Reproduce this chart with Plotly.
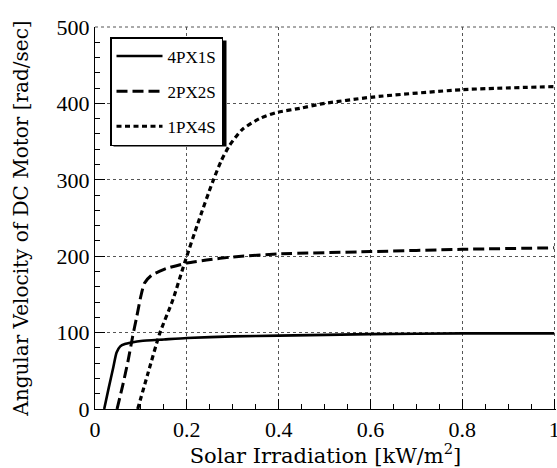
import plotly.graph_objects as go

# Data
x_4p1s = [0.02, 0.03, 0.04, 0.047, 0.055, 0.065, 0.08, 0.1, 0.15, 0.2, 0.3, 0.4, 0.6, 0.8, 1.0]
y_4p1s = [0, 28, 55, 74, 82, 85, 87, 89, 91, 93, 95, 96, 98, 99, 99]

x_2p2s = [0.048, 0.06, 0.072, 0.082, 0.091, 0.1, 0.108, 0.123, 0.14, 0.156, 0.2, 0.243, 0.3, 0.4, 0.6, 0.8, 1.0]
y_2p2s = [0, 30, 63, 95, 121, 148, 165, 175, 180, 184, 191, 195, 199, 203, 206, 209, 211]

x_1p4s = [0.093, 0.115, 0.141, 0.169, 0.195, 0.224, 0.256, 0.275, 0.293, 0.321, 0.358, 0.395, 0.45, 0.49, 0.6, 0.8, 1.0]
y_1p4s = [0, 46, 99, 142, 191, 243, 297, 325, 345, 366, 380, 388, 394, 399, 408, 418, 422]

series_names = ["4PX1S", "2PX2S", "1PX4S"]

x_ticks = [0, 0.2, 0.4, 0.6, 0.8, 1]
x_tick_labels = ["0", "0.2", "0.4", "0.6", "0.8", "1"]
y_ticks = [0, 100, 200, 300, 400, 500]

SERIF = "Liberation Serif, Times New Roman, serif"
WIDE_SERIF = "DejaVu Serif, serif"

fig = go.Figure()
fig.add_trace(go.Scatter(x=x_4p1s, y=y_4p1s, mode="lines", name=series_names[0],
                         legendgroup="a", line=dict(color="black", width=2.6, shape="spline", smoothing=0.6)))
fig.add_trace(go.Scatter(x=x_2p2s, y=y_2p2s, mode="lines", name=series_names[1],
                         legendgroup="b", line=dict(color="black", width=3, dash="11px,5px", shape="spline", smoothing=0.6)))
fig.add_trace(go.Scatter(x=x_1p4s, y=y_1p4s, mode="lines", name=series_names[2],
                         legendgroup="c", line=dict(color="black", width=3.2, dash="5px,3.5px", shape="spline", smoothing=0.6)))

axis_common = dict(
    showline=True, linecolor="black", linewidth=1.2, mirror=False,
    ticks="inside", ticklen=10, tickwidth=1, tickcolor="black",
    showgrid=True, gridcolor="#555", griddash="dot", gridwidth=1,
    zeroline=False, tickfont=dict(family=SERIF, size=22, color="black"),
    automargin=False, ticklabeloverflow="allow",
)

# legend box in plot pixels (for the drop shadow)
px_w, px_h = 461.0, 382.0
leg_left, leg_right, leg_top, leg_bottom = 15, 128, 10, 116
leg_x0, leg_x1 = leg_left / px_w, leg_right / px_w
leg_y1, leg_y0 = 1 - leg_top / px_h, 1 - leg_bottom / px_h
sh = 3.5

fig.update_layout(
    width=557, height=468,
    margin=dict(l=95, r=1, t=27, b=59),
    paper_bgcolor="white", plot_bgcolor="white",
    showlegend=True,
    legend=dict(x=leg_x0, y=leg_y1, xanchor="left", yanchor="top",
                bgcolor="white", bordercolor="black", borderwidth=1.5,
                font=dict(family=SERIF, size=17, color="black"),
                tracegroupgap=10, itemwidth=46),
    xaxis=dict(range=[0, 1.004], tickvals=x_ticks, ticktext=x_tick_labels,
               minor=dict(dtick=0.05, ticks="inside", ticklen=5, tickcolor="black", showgrid=False),
               title=dict(text="Solar Irradiation [kW/m<sup>2</sup>]", standoff=4,
                          font=dict(family=WIDE_SERIF, size=21, color="black")),
               **axis_common),
    yaxis=dict(range=[0, 500], tickvals=y_ticks,
               minor=dict(dtick=20, ticks="inside", ticklen=5, tickcolor="black", showgrid=False),
               title=dict(text="Angular Velocity of DC Motor [rad/sec]", standoff=22,
                          font=dict(family=WIDE_SERIF, size=20, color="black")),
               **axis_common),
)
# top border drawn as dotted grid line
fig.add_shape(type="line", xref="paper", yref="paper", x0=0, x1=1, y0=1, y1=1,
              line=dict(color="#555", width=1, dash="dot"))
# legend drop shadow
fig.add_shape(type="rect", xref="paper", yref="paper",
              x0=leg_x0 + sh / px_w, x1=leg_x1 + sh / px_w,
              y0=leg_y0 - sh / px_h, y1=leg_y1 - sh / px_h,
              line=dict(width=0), fillcolor="black", layer="above")

fig.write_html("out.html", config={"displayModeBar": False},
               post_script="document.body.style.margin='0px';")
